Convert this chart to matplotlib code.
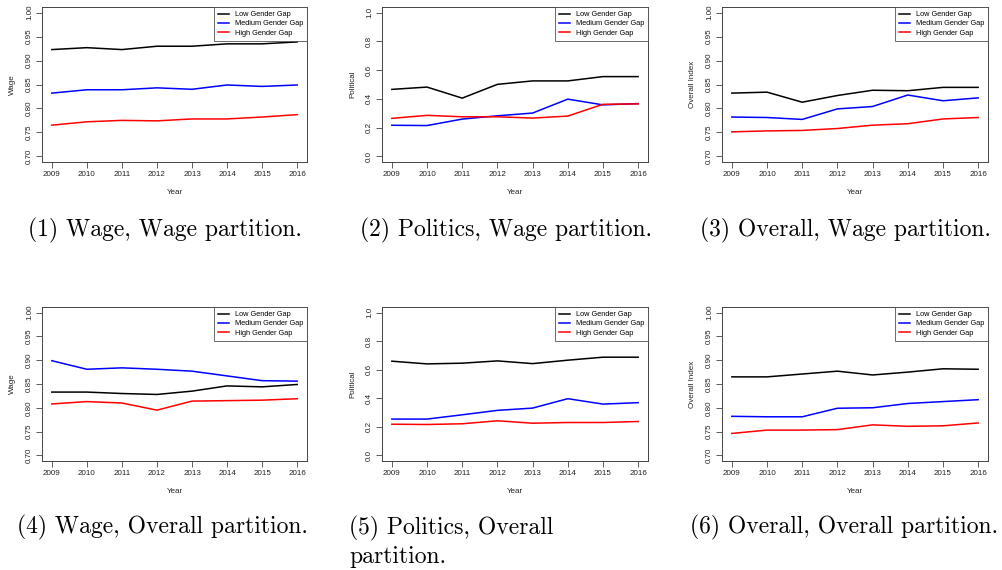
import matplotlib.pyplot as plt

years = [2009, 2010, 2011, 2012, 2013, 2014, 2015, 2016]
series_names = ['Low Gender Gap', 'Medium Gender Gap', 'High Gender Gap']
colors = ['black', 'blue', 'red']

# (1) Wage, Wage partition
wage_wp_low = [0.923, 0.927, 0.923, 0.930, 0.930, 0.935, 0.935, 0.939]
wage_wp_med = [0.832, 0.839, 0.839, 0.843, 0.840, 0.849, 0.846, 0.849]
wage_wp_high = [0.765, 0.772, 0.775, 0.774, 0.778, 0.778, 0.782, 0.787]
# (2) Politics, Wage partition
pol_wp_low = [0.466, 0.482, 0.405, 0.501, 0.525, 0.525, 0.555, 0.555]
pol_wp_med = [0.216, 0.214, 0.259, 0.282, 0.301, 0.398, 0.358, 0.367]
pol_wp_high = [0.264, 0.285, 0.275, 0.275, 0.266, 0.280, 0.362, 0.365]
# (3) Overall, Wage partition
ovr_wp_low = [0.832, 0.834, 0.813, 0.827, 0.838, 0.837, 0.844, 0.844]
ovr_wp_med = [0.782, 0.781, 0.777, 0.799, 0.804, 0.828, 0.816, 0.822]
ovr_wp_high = [0.751, 0.753, 0.754, 0.758, 0.765, 0.768, 0.778, 0.781]
# (4) Wage, Overall partition
wage_op_low = [0.833, 0.833, 0.830, 0.828, 0.835, 0.846, 0.844, 0.849]
wage_op_med = [0.899, 0.881, 0.884, 0.881, 0.877, 0.867, 0.857, 0.856]
wage_op_high = [0.808, 0.813, 0.810, 0.795, 0.814, 0.815, 0.816, 0.819]
# (5) Politics, Overall partition
pol_op_low = [0.660, 0.641, 0.646, 0.662, 0.643, 0.667, 0.688, 0.688]
pol_op_med = [0.254, 0.254, 0.284, 0.315, 0.331, 0.397, 0.359, 0.369]
pol_op_high = [0.218, 0.216, 0.221, 0.242, 0.225, 0.230, 0.230, 0.237]
# (6) Overall, Overall partition
ovr_op_low = [0.865, 0.865, 0.871, 0.877, 0.869, 0.875, 0.882, 0.881]
ovr_op_med = [0.782, 0.781, 0.781, 0.799, 0.800, 0.809, 0.813, 0.817]
ovr_op_high = [0.746, 0.753, 0.753, 0.754, 0.764, 0.761, 0.762, 0.768]

idx_ticks = [0.70, 0.75, 0.80, 0.85, 0.90, 0.95, 1.00]
idx_labels = ['0.70', '0.75', '0.80', '0.85', '0.90', '0.95', '1.00']
pol_ticks = [0.0, 0.2, 0.4, 0.6, 0.8, 1.0]
pol_labels = ['0.0', '0.2', '0.4', '0.6', '0.8', '1.0']

panels = [
    ([wage_wp_low, wage_wp_med, wage_wp_high], 'Wage', idx_ticks, idx_labels),
    ([pol_wp_low, pol_wp_med, pol_wp_high], 'Political', pol_ticks, pol_labels),
    ([ovr_wp_low, ovr_wp_med, ovr_wp_high], 'Overall Index', idx_ticks, idx_labels),
    ([wage_op_low, wage_op_med, wage_op_high], 'Wage', idx_ticks, idx_labels),
    ([pol_op_low, pol_op_med, pol_op_high], 'Political', pol_ticks, pol_labels),
    ([ovr_op_low, ovr_op_med, ovr_op_high], 'Overall Index', idx_ticks, idx_labels),
]
captions = ['(1) Wage, Wage partition.', '(2) Politics, Wage partition.',
            '(3) Overall, Wage partition.', '(4) Wage, Overall partition.',
            '(5) Politics, Overall\npartition.', '(6) Overall, Overall partition.']

W, H = 1003, 570
fig = plt.figure(figsize=(W / 100, H / 100), dpi=100)
plt.rcParams['font.family'] = ['Liberation Sans', 'DejaVu Sans']

# axes boxes in pixels: left, right, top, bottom
lefts = [42, 382, 722]
widths = [265, 266, 266]
rows = [(7, 162), (307, 461)]
gray = '#444444'
txt_col = '#222222'
tick_fs = 5.8

for i, (data, ylab, ticks, tlabels) in enumerate(panels):
    r, c = divmod(i, 3)
    top, bot = rows[r]
    ax = fig.add_axes([lefts[c] / W, 1 - bot / H, widths[c] / W, (bot - top) / H])
    for vals, name, col in zip(data, series_names, colors):
        ax.plot(years, vals, color=col, lw=1.1, label=name)
    lo, hi = ticks[0], ticks[-1]
    pad = (hi - lo) * 0.04
    ax.set_ylim(lo - pad, hi + pad)
    ax.set_xlim(2009 - 0.28, 2016 + 0.28)
    ax.set_xticks(years)
    ax.set_xticklabels([str(y) for y in years], fontsize=tick_fs, color=txt_col)
    ax.set_yticks(ticks)
    ax.set_yticklabels(tlabels, fontsize=tick_fs, color=txt_col, rotation=90, va='center')
    ax.tick_params(length=4, width=0.6, color=gray, pad=2.5)
    for s in ax.spines.values():
        s.set_color(gray)
        s.set_linewidth(0.7)
    ax.set_xlabel('Year', fontsize=tick_fs, color=txt_col, labelpad=8)
    ax.set_ylabel(ylab, fontsize=tick_fs, color=txt_col, labelpad=7)
    leg = ax.legend(loc='upper right', fontsize=5.3, frameon=True, fancybox=False,
                    borderaxespad=0, handlelength=1.5, handletextpad=0.8,
                    labelspacing=0.28, borderpad=0.55)
    leg.get_frame().set_edgecolor(gray)
    leg.get_frame().set_linewidth(0.7)

cap_pos = [(165, 236, 'center'), (506, 236, 'center'), (846, 236, 'center'),
           (163, 533, 'center'), (349, 533, 'left'), (844, 533, 'center')]
for (x, y, ha), txt in zip(cap_pos, captions):
    t = fig.text(x / W, 1 - y / H, txt, ha=ha, va='baseline', fontsize=17,
                 family='cmr10', linespacing=1.28)
    if '\n' in txt:
        # first line baseline at y, so shift the block
        t.set_va('top')
        t.set_y(1 - (y - 17) / H)

fig.savefig('out.png', dpi=100)
